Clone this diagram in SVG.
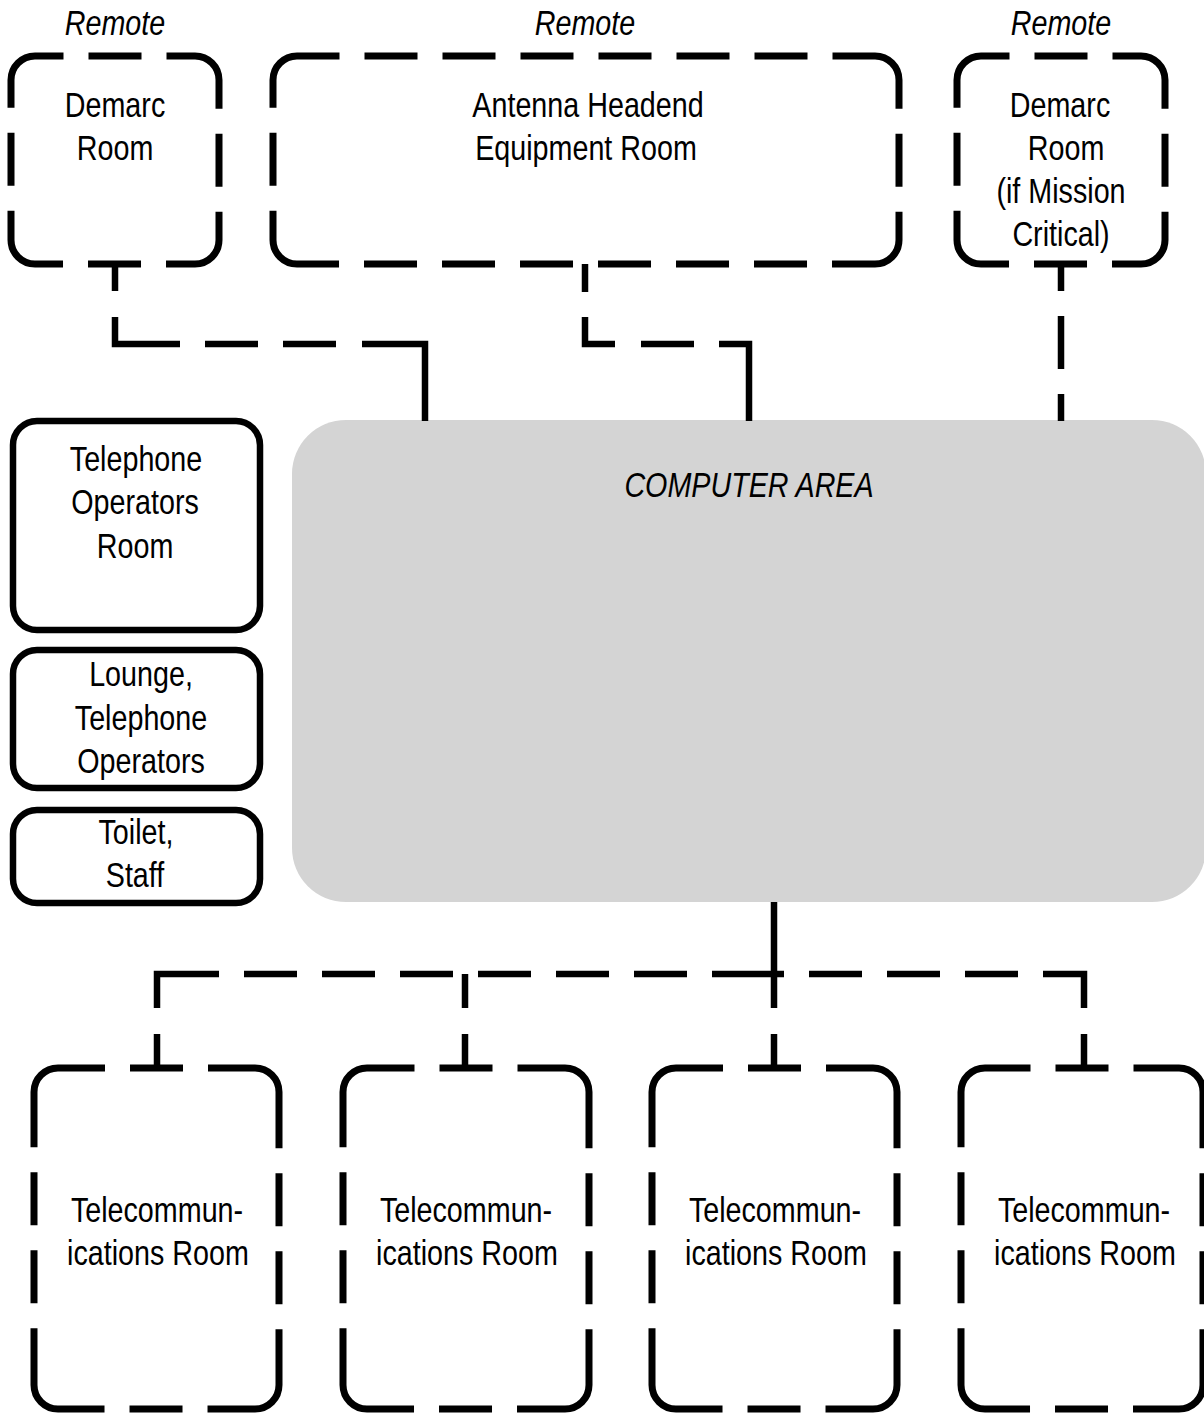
<svg xmlns="http://www.w3.org/2000/svg" width="1204" height="1414" viewBox="0 0 1204 1414">
<style>
  .bg { fill: #ffffff; }
  .dbox { fill: none; stroke: #000; stroke-width: 7; stroke-linecap: butt; }
  .sbox { fill: #ffffff; stroke: #000; stroke-width: 6.5; }
  .area { fill: #d4d4d4; stroke: none; }
  .conn { fill: none; stroke: #000; stroke-width: 6.5; stroke-linecap: butt; stroke-linejoin: miter; }
  text { font-family: "Liberation Sans", Arial, sans-serif; font-size: 35px; fill: #000; text-anchor: middle; }
  .it { font-style: italic; }
</style>
<rect class="bg" x="0" y="0" width="1204" height="1414"/>

<g id="computer-area">
  <rect class="area" x="292" y="420" width="914" height="482" rx="54" ry="54"/>
  <text class="it" transform="translate(749 497) scale(0.82 1)">COMPUTER AREA</text>
</g>

<g id="connectors">
  <path class="conn" d="M115,264 V344 H425 V421" stroke-dasharray="27 26 92 25 53 25 53 26 140 1000"/>
  <path class="conn" d="M585,264 V344 H749 V421" stroke-dasharray="28 25 57 26 53 25 107 1000"/>
  <path class="conn" d="M1061,264 V421" stroke-dasharray="27 25 53 25 27 1000"/>
  <path class="conn" d="M774,902 V1068" stroke-dasharray="106 26 34 1000"/>
  <path class="conn" d="M157,1068 V974 H1084 V1068" stroke-dasharray="34 26 96 25 53 25 53 25 53 25 53 25 53 25 53 25 72 25 53 25 53 25 53 25 75 26 34 1000"/>
  <path class="conn" d="M465,974 V1068" stroke-dasharray="34 26 34 1000"/>
</g>

<g id="demarc-room-1">
  <path class="dbox" d="M63.5,56 H195 A24,24 0 0 1 219,80 V240 A24,24 0 0 1 195,264 H35 A24,24 0 0 1 11,240 V80 A24,24 0 0 1 35,56 Z" stroke-dasharray="0 25 53 25 94.7 25 53 25 94.7 25 53 25 94.7 25 53 25 94.7"/>
  <text class="it" transform="translate(115 35) scale(0.82 1)">Remote</text>
  <text transform="translate(115 117) scale(0.82 1)">Demarc</text>
  <text transform="translate(115 160) scale(0.82 1)">Room</text>
</g>

<g id="antenna-headend-room">
  <path class="dbox" d="M339.5,56 H875 A24,24 0 0 1 899,80 V240 A24,24 0 0 1 875,264 H297 A24,24 0 0 1 273,240 V80 A24,24 0 0 1 297,56 Z" stroke-dasharray="0 25 53 25 53 25 53 25 53 25 53 25 53 25 108.7 25 53 25 108.7 25 53 25 53 25 53 25 53 25 53 25 53 25 108.7 25 53 25 108.7"/>
  <text class="it" transform="translate(585 35) scale(0.82 1)">Remote</text>
  <text transform="translate(588 117) scale(0.82 1)">Antenna Headend</text>
  <text transform="translate(586 160) scale(0.82 1)">Equipment Room</text>
</g>

<g id="demarc-room-2">
  <path class="dbox" d="M1009.5,56 H1141 A24,24 0 0 1 1165,80 V240 A24,24 0 0 1 1141,264 H981 A24,24 0 0 1 957,240 V80 A24,24 0 0 1 981,56 Z" stroke-dasharray="0 25 53 25 94.7 25 53 25 94.7 25 53 25 94.7 25 53 25 94.7"/>
  <text class="it" transform="translate(1061 35) scale(0.82 1)">Remote</text>
  <text transform="translate(1060 117) scale(0.82 1)">Demarc</text>
  <text transform="translate(1066 160) scale(0.82 1)">Room</text>
  <text transform="translate(1061 203) scale(0.82 1)">(if Mission</text>
  <text transform="translate(1061 246) scale(0.82 1)">Critical)</text>
</g>

<g id="telephone-operators-room">
  <rect class="sbox" x="13" y="421" width="247" height="209" rx="24" ry="24"/>
  <text transform="translate(136 471) scale(0.82 1)">Telephone</text>
  <text transform="translate(135 514) scale(0.82 1)">Operators</text>
  <text transform="translate(135 558) scale(0.82 1)">Room</text>
</g>

<g id="lounge">
  <rect class="sbox" x="13" y="650" width="247" height="138" rx="24" ry="24"/>
  <text transform="translate(141 686) scale(0.82 1)">Lounge,</text>
  <text transform="translate(141 730) scale(0.82 1)">Telephone</text>
  <text transform="translate(141 773) scale(0.82 1)">Operators</text>
</g>

<g id="toilet">
  <rect class="sbox" x="13" y="810" width="247" height="93" rx="24" ry="24"/>
  <text transform="translate(136 844) scale(0.82 1)">Toilet,</text>
  <text transform="translate(135 887) scale(0.82 1)">Staff</text>
</g>

<g id="telecom-room-1">
  <path class="dbox" d="M105,1068 H255 A24,24 0 0 1 279,1092 V1385 A24,24 0 0 1 255,1409 H58 A24,24 0 0 1 34,1385 V1092 A24,24 0 0 1 58,1068 Z" stroke-dasharray="0 25 53 25 140.7 25 53 25 53 25 140.7 25 53 25 140.7 25 53 25 53 25 140.7"/>
  <text transform="translate(157 1222) scale(0.82 1)">Telecommun-</text>
  <text transform="translate(158 1265) scale(0.82 1)">ications Room</text>
</g>

<g id="telecom-room-2">
  <path class="dbox" d="M414.5,1068 H565 A24,24 0 0 1 589,1092 V1385 A24,24 0 0 1 565,1409 H367 A24,24 0 0 1 343,1385 V1092 A24,24 0 0 1 367,1068 Z" stroke-dasharray="0 25 53 25 141.2 25 53 25 53 25 141.2 25 53 25 141.2 25 53 25 53 25 141.2"/>
  <text transform="translate(466 1222) scale(0.82 1)">Telecommun-</text>
  <text transform="translate(467 1265) scale(0.82 1)">ications Room</text>
</g>

<g id="telecom-room-3">
  <path class="dbox" d="M723,1068 H873 A24,24 0 0 1 897,1092 V1385 A24,24 0 0 1 873,1409 H676 A24,24 0 0 1 652,1385 V1092 A24,24 0 0 1 676,1068 Z" stroke-dasharray="0 25 53 25 140.7 25 53 25 53 25 140.7 25 53 25 140.7 25 53 25 53 25 140.7"/>
  <text transform="translate(775 1222) scale(0.82 1)">Telecommun-</text>
  <text transform="translate(776 1265) scale(0.82 1)">ications Room</text>
</g>

<g id="telecom-room-4">
  <path class="dbox" d="M1030.5,1068 H1179 A24,24 0 0 1 1203,1092 V1385 A24,24 0 0 1 1179,1409 H985 A24,24 0 0 1 961,1385 V1092 A24,24 0 0 1 985,1068 Z" stroke-dasharray="0 25 53 25 139.2 25 53 25 53 25 139.2 25 53 25 139.2 25 53 25 53 25 139.2"/>
  <text transform="translate(1084 1222) scale(0.82 1)">Telecommun-</text>
  <text transform="translate(1085 1265) scale(0.82 1)">ications Room</text>
</g>
</svg>
